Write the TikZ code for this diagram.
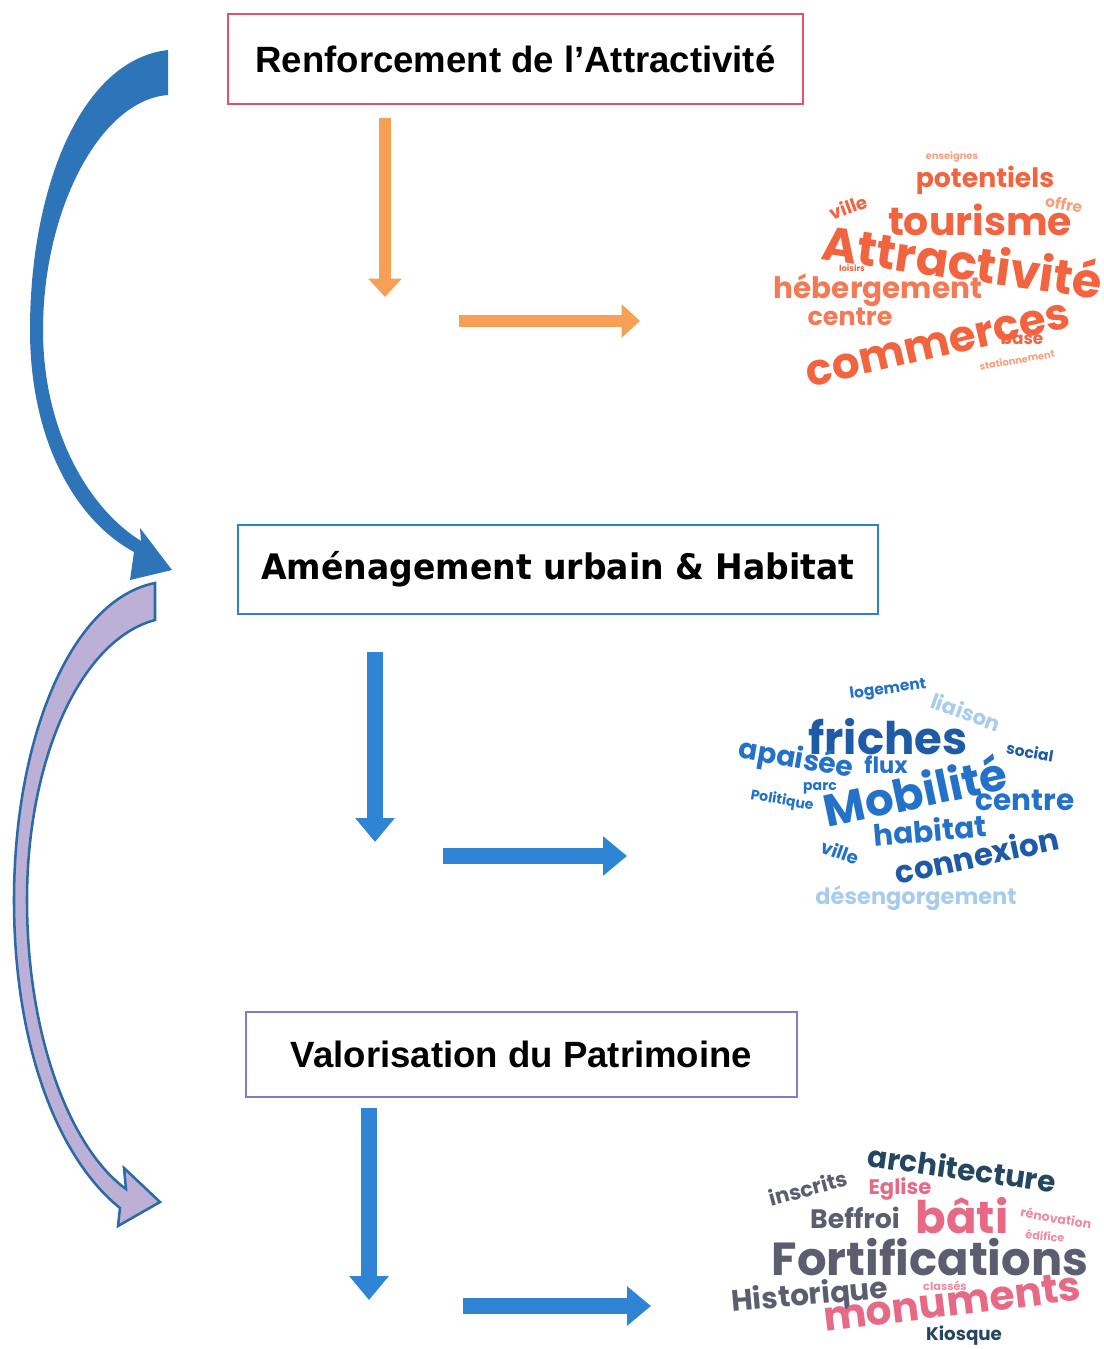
\documentclass[tikz,border=0pt]{standalone}
\usepackage{fontspec}
\setmainfont{Liberation Sans}
\newfontfamily\verdfont{DejaVu Sans}
\newfontfamily\cloudfont{Poppins}
\usepackage{xcolor}
\usetikzlibrary{arrows.meta, positioning}

\definecolor{redbox}{HTML}{E0546A}
\definecolor{bluebox}{HTML}{2F80D0}
\definecolor{purplebox}{HTML}{8878C8}
\definecolor{orangearr}{HTML}{F5A055}
\definecolor{bluearr}{HTML}{2F85D3}
\definecolor{curveblue}{HTML}{2E74B8}
\definecolor{curvelav}{HTML}{BCB0D6}
\definecolor{curveline}{HTML}{2C6AA6}
\definecolor{or1}{HTML}{F2643F}
\definecolor{or2}{HTML}{F47A55}
\definecolor{or3}{HTML}{F6A07E}
\definecolor{bl0}{HTML}{1F5AA6}
\definecolor{bl1}{HTML}{2372C8}
\definecolor{bl3}{HTML}{A8CCEC}
\definecolor{sl0}{HTML}{24475F}
\definecolor{gr1}{HTML}{5C5E70}
\definecolor{pk1}{HTML}{E66A86}
\definecolor{pk2}{HTML}{EC8CA2}

\begin{document}
\begin{tikzpicture}[x=0.025cm, y=-0.025cm,
  titlebox/.style={draw=#1, line width=2pt, fill=white, inner sep=0pt},
  titlefont/.style={font=\bfseries\fontsize{26}{30}\selectfont},
  orangeflow/.style={draw=orangearr, line width=9pt, -{Triangle[length=13pt, width=23pt]}},
  blueflow/.style={draw=bluearr, line width=11pt, -{Triangle[length=17pt, width=27pt]}},
  wsz/.style={font=\cloudfont\bfseries\fontsize{#1}{#1}\selectfont, inner sep=0pt}
]
  \useasboundingbox (0,0) rectangle (1104,1349);

  % curved arrows on the left
  \fill[curveblue] (168,50) .. controls (80,60) and (30,190) .. (30,330)
    .. controls (30,440) and (75,520) .. (134,552) -- (130,580) -- (172,570)
    -- (140,528) -- (141,541) .. controls (88,508) and (43,430) .. (43,330)
    .. controls (43,210) and (100,100) .. (168,95) -- cycle;
  \filldraw[fill=curvelav, draw=curveline, line width=1.8pt]
    (155,583) .. controls (70,600) and (14,740) .. (14,900)
    .. controls (14,1050) and (60,1160) .. (120,1208) -- (118,1226) -- (160,1202)
    -- (124,1168) -- (126,1189) .. controls (72,1150) and (27,1040) .. (27,900)
    .. controls (27,760) and (80,640) .. (155,620) -- cycle;

  % the three themes
  \node[titlebox=redbox, minimum width=14.375cm, minimum height=2.25cm, titlefont]
    (attract) at (515.5,59) {Renforcement de l’Attractivité};
  \node[titlebox=bluebox, minimum width=16cm, minimum height=2.225cm,
    font=\verdfont\bfseries\fontsize{25}{30}\selectfont]
    (amenag) at (558,569.5) {\scalebox{0.94}[1]{Aménagement urbain \& Habitat}};
  \node[titlebox=purplebox, minimum width=13.775cm, minimum height=2.125cm, titlefont]
    (patrim) at (521.5,1054.5) {Valorisation du Patrimoine};

  % arrow ends
  \coordinate (a1top) at (385,118);
  \coordinate (a1bot) at (385,297);
  \coordinate (a1l) at (459,321);
  \coordinate (a1r) at (640,321);
  \coordinate (a2top) at (375,652);
  \coordinate (a2bot) at (375,842);
  \coordinate (a2l) at (443,856);
  \coordinate (a2r) at (627,856);
  \coordinate (a3top) at (369,1108);
  \coordinate (a3bot) at (369,1300);
  \coordinate (a3l) at (463,1306);
  \coordinate (a3r) at (651,1306);

  \draw[orangeflow] (a1top) -- (a1bot);
  \draw[orangeflow] (a1l) -- (a1r);
  \draw[blueflow] (a2top) -- (a2bot);
  \draw[blueflow] (a2l) -- (a2r);
  \draw[blueflow] (a3top) -- (a3bot);
  \draw[blueflow] (a3l) -- (a3r);

  % word cloud: attractivite
  \node[wsz=7, text=or3] (ca1) at (952,157) {enseignes};
  \node[wsz=19, text=or1] (ca2) at (985,180) {potentiels};
  \node[wsz=13, text=or1, rotate=20] (ca3) at (848,207) {ville};
  \node[wsz=28, text=or1] (ca4) at (980,220) {tourisme};
  \node[wsz=11, text=or3, rotate=-10] (ca5) at (1064,204) {offre};
  \node[wsz=34, text=or1, rotate=-8] (ca6) at (963,260) {Attractivité};
  \node[wsz=6, text=or1] (ca7) at (852,268) {loisirs};
  \node[wsz=21, text=or2] (ca8) at (878,290) {hébergement};
  \node[wsz=18, text=or2] (ca9) at (850,317) {centre};
  \node[wsz=31, text=or1, rotate=13] (ca10) at (938,345) {commerces};
  \node[wsz=12, text=or1] (ca11) at (1022,338) {base};
  \node[wsz=7, text=or3, rotate=10] (ca12) at (1017,360) {stationnement};

  % word cloud: amenagement
  \node[wsz=11, text=bl1, rotate=8] (cb1) at (888,690) {logement};
  \node[wsz=15, text=bl3, rotate=-20] (cb2) at (966,712) {liaison};
  \node[wsz=32, text=bl0] (cb3) at (888,737) {friches};
  \node[wsz=20, text=bl1, rotate=-10] (cb4) at (796,760) {apaisée};
  \node[wsz=16, text=bl1] (cb5) at (886,765) {flux};
  \node[wsz=11, text=bl0, rotate=-10] (cb6) at (1030,752) {social};
  \node[wsz=10, text=bl1] (cb7) at (820,788) {parc};
  \node[wsz=10, text=bl1, rotate=-10] (cb8) at (782,801) {Politique};
  \node[wsz=32, text=bl1, rotate=12] (cb9) at (915,790) {Mobilité};
  \node[wsz=21, text=bl1] (cb10) at (1025,800) {centre};
  \node[wsz=21, text=bl1, rotate=5] (cb11) at (930,830) {habitat};
  \node[wsz=13, text=bl1, rotate=-20] (cb12) at (840,852) {ville};
  \node[wsz=22, text=bl0, rotate=12] (cb13) at (977,855) {connexion};
  \node[wsz=16, text=bl3] (cb14) at (916,898) {désengorgement};

  % word cloud: patrimoine
  \node[wsz=21, text=sl0, rotate=-8] (cc1) at (962,1168) {architecture};
  \node[wsz=15, text=gr1, rotate=15] (cc2) at (808,1188) {inscrits};
  \node[wsz=15, text=pk1] (cc3) at (900,1189) {Eglise};
  \node[wsz=19, text=gr1] (cc4) at (855,1218) {Beffroi};
  \node[wsz=32, text=pk1] (cc5) at (962,1216) {bâti};
  \node[wsz=9, text=pk2, rotate=-10] (cc6) at (1056,1218) {rénovation};
  \node[wsz=8, text=pk2, rotate=-5] (cc7) at (1045,1236) {édifice};
  \node[wsz=33, text=gr1] (cc8) at (930,1257) {Fortifications};
  \node[wsz=21, text=gr1, rotate=5] (cc9) at (810,1297) {Historique};
  \node[wsz=8, text=pk2] (cc10) at (945,1286) {classés};
  \node[wsz=29, text=pk1, rotate=7] (cc11) at (952,1302) {monuments};
  \node[wsz=13, text=sl0] (cc12) at (964,1336) {Kiosque};
\end{tikzpicture}
\end{document}
